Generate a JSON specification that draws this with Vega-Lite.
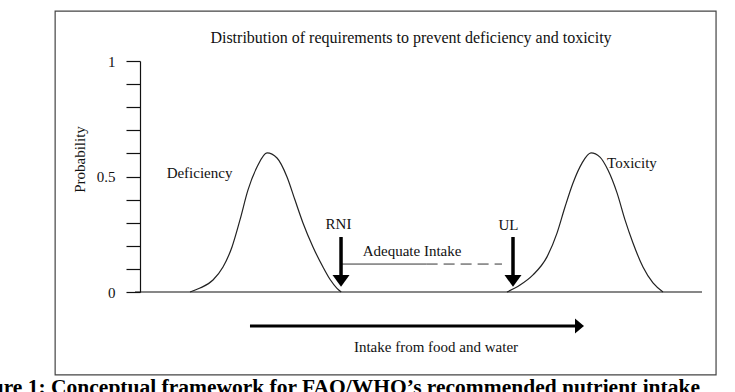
{
  "$schema": "https://vega.github.io/schema/vega-lite/v6.json",
  "autosize": {"type": "none"},
  "padding": {"left": 140, "top": 61, "right": 33, "bottom": 100},
  "width": 562,
  "height": 231,
  "background": "white",
  "config": {"view": {"stroke": null}, "font": "Liberation Serif"},
  "datasets": {
    "curves": [
      {"curve": "Deficiency", "x": 8.9, "y": 0},
      {"curve": "Deficiency", "x": 10.68, "y": 0.017},
      {"curve": "Deficiency", "x": 12.99, "y": 0.052},
      {"curve": "Deficiency", "x": 14.77, "y": 0.108},
      {"curve": "Deficiency", "x": 16.37, "y": 0.195},
      {"curve": "Deficiency", "x": 17.79, "y": 0.312},
      {"curve": "Deficiency", "x": 19.22, "y": 0.442},
      {"curve": "Deficiency", "x": 20.82, "y": 0.541},
      {"curve": "Deficiency", "x": 22.6, "y": 0.602},
      {"curve": "Deficiency", "x": 24.38, "y": 0.58},
      {"curve": "Deficiency", "x": 26.16, "y": 0.498},
      {"curve": "Deficiency", "x": 27.58, "y": 0.398},
      {"curve": "Deficiency", "x": 29.0, "y": 0.299},
      {"curve": "Deficiency", "x": 30.78, "y": 0.195},
      {"curve": "Deficiency", "x": 32.56, "y": 0.108},
      {"curve": "Deficiency", "x": 33.8, "y": 0.055},
      {"curve": "Deficiency", "x": 35.05, "y": 0.016},
      {"curve": "Deficiency", "x": 35.8, "y": 0},
      {"curve": "Toxicity", "x": 65.3, "y": 0},
      {"curve": "Toxicity", "x": 67.62, "y": 0.03},
      {"curve": "Toxicity", "x": 69.93, "y": 0.074},
      {"curve": "Toxicity", "x": 72.42, "y": 0.152},
      {"curve": "Toxicity", "x": 74.2, "y": 0.255},
      {"curve": "Toxicity", "x": 75.62, "y": 0.368},
      {"curve": "Toxicity", "x": 77.05, "y": 0.472},
      {"curve": "Toxicity", "x": 78.65, "y": 0.558},
      {"curve": "Toxicity", "x": 80.25, "y": 0.602},
      {"curve": "Toxicity", "x": 81.85, "y": 0.584},
      {"curve": "Toxicity", "x": 83.27, "y": 0.528},
      {"curve": "Toxicity", "x": 84.88, "y": 0.429},
      {"curve": "Toxicity", "x": 86.3, "y": 0.312},
      {"curve": "Toxicity", "x": 87.72, "y": 0.212},
      {"curve": "Toxicity", "x": 89.5, "y": 0.108},
      {"curve": "Toxicity", "x": 91.28, "y": 0.039},
      {"curve": "Toxicity", "x": 93.06, "y": 0}
    ],
    "frame": [{"x": -15.1, "x2": 102.5, "y": -0.359, "y2": 1.216}],
    "baseline": [{"x": -0.9, "x2": 100, "y": 0, "y2": 0}],
    "shafts": [
      {"name": "RNI", "x": 35.77, "x2": 35.77, "y": 0.238, "y2": 0.06},
      {"name": "UL", "x": 66.37, "x2": 66.37, "y": 0.238, "y2": 0.06}
    ],
    "intakeShaft": [{"x": 19.57, "x2": 77.9, "y": -0.147, "y2": -0.147}],
    "adequateSolid": [{"x": 35.94, "x2": 51.0, "y": 0.121, "y2": 0.121}],
    "adequateDashed": [{"x": 51.0, "x2": 64.41, "y": 0.121, "y2": 0.121}],
    "downHeads": [
      {"name": "RNI", "x": 35.77, "y": 0.048},
      {"name": "UL", "x": 66.37, "y": 0.048}
    ],
    "rightHead": [{"x": 78.2, "y": -0.147}],
    "labels": [
      {"x": 10.59, "y": 0.515, "text": "Deficiency"},
      {"x": 87.54, "y": 0.558, "text": "Toxicity"},
      {"x": 35.32, "y": 0.294, "text": "RNI"},
      {"x": 65.57, "y": 0.29, "text": "UL"},
      {"x": 48.4, "y": 0.177, "text": "Adequate Intake"},
      {"x": 52.67, "y": -0.238, "text": "Intake from food and water"}
    ],
    "title": [{"x": 48.22, "y": 1.1, "text": "Distribution of requirements to prevent deficiency and toxicity"}],
    "caption": [{"x": 99.64, "y": -0.44, "text": "Figure 1: Conceptual framework for FAO/WHO’s recommended nutrient intake"}]
  },
  "encoding": {
    "x": {"field": "x", "type": "quantitative", "scale": {"domain": [0, 100], "nice": false, "zero": false}, "axis": null},
    "y": {"field": "y", "type": "quantitative", "scale": {"domain": [0, 1], "nice": false, "zero": false},
      "axis": {
        "title": "Probability",
        "values": [0, 0.1, 0.2, 0.3, 0.4, 0.5, 0.6, 0.7, 0.8, 0.9, 1],
        "labelExpr": "abs(datum.value) < 0.001 ? '0' : abs(datum.value - 0.5) < 0.001 ? '0.5' : abs(datum.value - 1) < 0.001 ? '1' : ''",
        "grid": false,
        "domainColor": "#111",
        "domainWidth": 1.2,
        "tickColor": "#111",
        "tickWidth": 1.2,
        "tickSize": 14,
        "labelPadding": 11,
        "labelFont": "Liberation Serif",
        "labelFontSize": 15,
        "labelColor": "#111",
        "titleFont": "Liberation Serif",
        "titleFontSize": 15,
        "titleFontWeight": "normal",
        "titleColor": "#111",
        "titlePadding": 9,
        "titleY": 98
      }
    }
  },
  "layer": [
    {"data": {"name": "frame"}, "mark": {"type": "rect", "fill": null, "stroke": "#444", "strokeWidth": 1.2},
      "encoding": {"x2": {"field": "x2"}, "y2": {"field": "y2"}}},
    {"data": {"name": "baseline"}, "mark": {"type": "rule", "color": "#111", "strokeWidth": 1.2},
      "encoding": {"x2": {"field": "x2"}, "y2": {"field": "y2"}}},
    {"data": {"name": "curves"}, "mark": {"type": "line", "color": "#222", "strokeWidth": 1.2, "interpolate": "monotone"},
      "encoding": {"detail": {"field": "curve"}}},
    {"data": {"name": "adequateSolid"}, "mark": {"type": "rule", "color": "#333", "strokeWidth": 1},
      "encoding": {"x2": {"field": "x2"}, "y2": {"field": "y2"}}},
    {"data": {"name": "adequateDashed"}, "mark": {"type": "rule", "color": "#333", "strokeWidth": 1, "strokeDash": [11, 6]},
      "encoding": {"x2": {"field": "x2"}, "y2": {"field": "y2"}}},
    {"data": {"name": "shafts"}, "mark": {"type": "rule", "color": "#000", "strokeWidth": 3.5},
      "encoding": {"x2": {"field": "x2"}, "y2": {"field": "y2"}}},
    {"data": {"name": "intakeShaft"}, "mark": {"type": "rule", "color": "#000", "strokeWidth": 3},
      "encoding": {"x2": {"field": "x2"}, "y2": {"field": "y2"}}},
    {"data": {"name": "downHeads"}, "mark": {"type": "point", "shape": "M-1,-0.7L1,-0.7L0,0.7Z", "size": 289, "filled": true, "color": "#000", "opacity": 1}},
    {"data": {"name": "rightHead"}, "mark": {"type": "point", "shape": "M-0.6,-1L0.6,0L-0.6,1Z", "size": 225, "filled": true, "color": "#000", "opacity": 1}},
    {"data": {"name": "labels"}, "mark": {"type": "text", "font": "Liberation Serif", "fontSize": 15, "color": "#111", "align": "center", "baseline": "middle"},
      "encoding": {"text": {"field": "text"}}},
    {"data": {"name": "title"}, "mark": {"type": "text", "font": "Liberation Serif", "fontSize": 16, "color": "#111", "align": "center", "baseline": "middle"},
      "encoding": {"text": {"field": "text"}}},
    {"data": {"name": "caption"}, "mark": {"type": "text", "font": "Liberation Serif", "fontSize": 21.5, "fontWeight": "bold", "color": "#000", "align": "right", "baseline": "alphabetic"},
      "encoding": {"text": {"field": "text"}}}
  ]
}
